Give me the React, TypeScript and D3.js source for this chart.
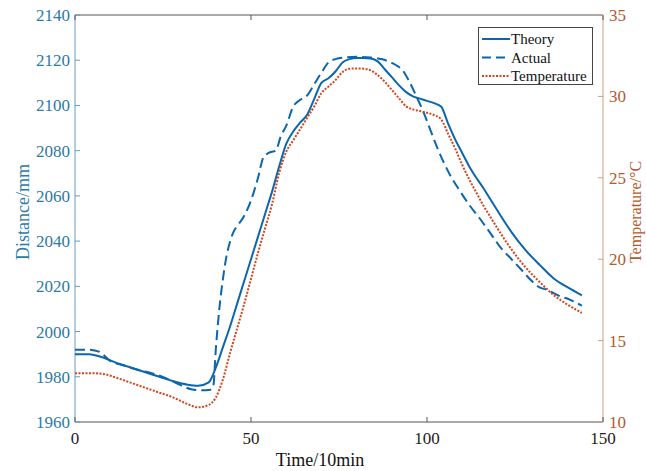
import React, { useRef, useEffect } from 'react';
import * as d3 from 'd3';

// time axis in units of 10 min
const time = [0, 4, 8, 12, 16, 20, 24, 28, 32, 35, 38, 40, 42, 44, 46, 48, 50, 52, 54, 56, 58, 60, 62, 64, 66, 68, 70, 72, 74, 76, 78, 80, 82, 84, 86, 88, 90, 92, 94, 96, 98, 100, 102, 104, 106, 108, 110, 112, 114, 116, 118, 120, 124, 128, 132, 136, 140, 144];

const theory = [1990, 1990, 1988.5, 1986, 1984, 1982, 1980, 1978, 1976.5, 1976, 1977.5, 1984, 1993, 2002, 2012, 2022, 2032, 2042, 2052, 2062, 2073, 2083, 2088.5, 2092.5, 2096, 2103, 2110, 2112, 2115, 2119, 2120.5, 2121, 2121, 2120.8, 2119.5, 2116, 2112.5, 2109, 2106, 2104, 2103, 2102, 2101, 2099.5, 2092, 2085, 2079, 2073, 2068, 2063.5, 2058.5, 2053.5, 2044, 2036, 2029.5, 2023.5, 2019.5, 2016];

const temperature = [13.0, 13.0, 12.95, 12.7, 12.4, 12.1, 11.8, 11.5, 11.1, 10.9, 11.05, 11.5, 12.6, 14.2, 15.7, 17.2, 18.8, 20.4, 21.9, 23.4, 25.3, 26.6, 27.3, 28.0, 28.7, 29.4, 30.2, 30.6, 31.0, 31.5, 31.7, 31.72, 31.7, 31.6, 31.3, 30.9, 30.4, 29.9, 29.4, 29.2, 29.1, 29.0, 28.85, 28.6, 27.7, 26.8, 25.8, 24.9, 24.1, 23.3, 22.6, 21.9, 20.6, 19.5, 18.6, 17.8, 17.2, 16.7];

const actualTime = [0, 4, 7, 10, 14, 18, 22, 26, 30, 33, 36, 38.5, 39.3, 40, 41, 42, 43, 44, 45, 46.5, 48, 50, 52, 53.5, 55, 57, 58.5, 60, 62, 64, 66, 68, 70, 72, 74, 77, 80, 84, 87, 89, 91, 93, 95, 97, 99, 101, 103, 105, 107, 109, 112, 115, 118, 121, 124, 127, 130, 132, 134, 136, 138, 140, 142, 144];

const actual = [1992, 1992, 1991, 1987, 1985, 1983, 1981.5, 1979.3, 1976.3, 1974.5, 1974, 1974.3, 1976, 1992, 2010, 2023, 2033, 2039.5, 2044, 2047.5, 2051, 2058, 2068, 2077, 2079, 2080, 2086.5, 2091, 2099.5, 2102.5, 2104.5, 2109.5, 2114.5, 2119, 2120.5, 2121.3, 2121.5, 2121.2, 2120.5, 2119.5, 2118, 2115.7, 2110.5, 2104, 2097, 2089, 2081, 2074, 2068, 2063, 2056, 2050, 2043.5, 2037, 2032, 2027, 2022, 2019.5, 2018.5, 2017, 2015.5, 2014.5, 2013, 2011.5];

const xTicks = [0, 50, 100, 150];
const yTicks = [1960, 1980, 2000, 2020, 2040, 2060, 2080, 2100, 2120, 2140];
const tTicks = [10, 15, 20, 25, 30, 35];
const legendLabels = ['Theory', 'Actual', 'Temperature'];

const BLUE = '#0b66ad';
const RED = '#d4441c';
const LEFT_AXIS = '#2c7aa5';
const RIGHT_AXIS = '#b5582e';

const App = () => {
  const svgRef = useRef<SVGSVGElement>(null);

  useEffect(() => {
    document.body.style.margin = '0';
    const svg = d3.select(svgRef.current);
    svg.selectAll('*').remove();

    const left = 75, right = 603, top = 15, bottom = 422;
    const font = '"Liberation Serif", "Times New Roman", serif';

    const x = d3.scaleLinear().domain([0, 150]).range([left, right]);
    const y = d3.scaleLinear().domain([1960, 2140]).range([bottom, top]);
    const yT = d3.scaleLinear().domain([10, 35]).range([bottom, top]);

    svg.append('rect').attr('width', 646).attr('height', 471).attr('fill', '#fff');

    // frame
    svg.append('line').attr('x1', left).attr('x2', right).attr('y1', top).attr('y2', top)
      .attr('stroke', '#555').attr('stroke-width', 1);
    svg.append('line').attr('x1', left).attr('x2', right).attr('y1', bottom).attr('y2', bottom)
      .attr('stroke', '#555').attr('stroke-width', 1);
    svg.append('line').attr('x1', left).attr('x2', left).attr('y1', top).attr('y2', bottom)
      .attr('stroke', '#6a9cc0').attr('stroke-width', 1);
    svg.append('line').attr('x1', right).attr('x2', right).attr('y1', top).attr('y2', bottom)
      .attr('stroke', '#c8a088').attr('stroke-width', 1);

    // x ticks (inward, top and bottom)
    const gx = svg.append('g');
    xTicks.forEach(t => {
      gx.append('line').attr('x1', x(t)).attr('x2', x(t)).attr('y1', bottom).attr('y2', bottom - 5)
        .attr('stroke', '#555');
      gx.append('line').attr('x1', x(t)).attr('x2', x(t)).attr('y1', top).attr('y2', top + 5)
        .attr('stroke', '#555');
      gx.append('text').attr('x', x(t)).attr('y', 444).attr('text-anchor', 'middle')
        .attr('font-family', font).attr('font-size', 17).attr('fill', '#222').text(t);
    });

    // left ticks
    const gy = svg.append('g');
    yTicks.forEach(v => {
      gy.append('line').attr('x1', left).attr('x2', left + 5).attr('y1', y(v)).attr('y2', y(v))
        .attr('stroke', '#6a9cc0');
      gy.append('text').attr('x', 70).attr('y', y(v)).attr('dy', '0.35em').attr('text-anchor', 'end')
        .attr('font-family', font).attr('font-size', 17).attr('fill', LEFT_AXIS).text(v);
    });

    // right ticks
    const gt = svg.append('g');
    tTicks.forEach(v => {
      gt.append('line').attr('x1', right).attr('x2', right - 5).attr('y1', yT(v)).attr('y2', yT(v))
        .attr('stroke', '#c8a088');
      gt.append('text').attr('x', 609).attr('y', yT(v)).attr('dy', '0.35em').attr('text-anchor', 'start')
        .attr('font-family', font).attr('font-size', 17).attr('fill', RIGHT_AXIS).text(v);
    });

    // axis titles
    svg.append('text').attr('x', 320).attr('y', 466).attr('text-anchor', 'middle')
      .attr('font-family', font).attr('font-size', 18).attr('fill', '#111').text('Time/10min');
    svg.append('text').attr('transform', 'translate(29,212) rotate(-90)').attr('text-anchor', 'middle')
      .attr('font-family', font).attr('font-size', 18).attr('fill', LEFT_AXIS).text('Distance/mm');
    svg.append('text').attr('transform', 'translate(641,212) rotate(-90)').attr('text-anchor', 'middle')
      .attr('font-family', font).attr('font-size', 16).attr('fill', RIGHT_AXIS).text('Temperature/°C');

    // lines
    const line = d3.line<[number, number]>().x(d => d[0]).y(d => d[1]).curve(d3.curveMonotoneX);

    svg.append('path')
      .attr('d', line(time.map((t, i) => [x(t), y(theory[i])])))
      .attr('fill', 'none').attr('stroke', BLUE).attr('stroke-width', 2);

    svg.append('path')
      .attr('d', line(actualTime.map((t, i) => [x(t), y(actual[i])])))
      .attr('fill', 'none').attr('stroke', BLUE).attr('stroke-width', 2)
      .attr('stroke-dasharray', '10,5');

    svg.append('path')
      .attr('d', line(time.map((t, i) => [x(t), yT(temperature[i])])))
      .attr('fill', 'none').attr('stroke', RED).attr('stroke-width', 2)
      .attr('stroke-dasharray', '2,1.5');

    // legend
    const lg = svg.append('g');
    lg.append('rect').attr('x', 478.5).attr('y', 27.5).attr('width', 114).attr('height', 57)
      .attr('fill', '#fff').attr('stroke', '#444').attr('stroke-width', 1);
    const dashes = [null, '9,5', '2,1.5'];
    const colors = [BLUE, BLUE, RED];
    legendLabels.forEach((label, i) => {
      const ly = 39 + i * 18.5;
      lg.append('line').attr('x1', 482).attr('x2', 510).attr('y1', ly).attr('y2', ly)
        .attr('stroke', colors[i]).attr('stroke-width', 2)
        .attr('stroke-dasharray', dashes[i]);
      lg.append('text').attr('x', 511).attr('y', ly).attr('dy', '0.35em')
        .attr('font-family', font).attr('font-size', 15).attr('fill', '#111').text(label);
    });
  }, []);

  return <svg ref={svgRef} width={646} height={471} style={{ display: 'block' }} />;
};

export default App;
